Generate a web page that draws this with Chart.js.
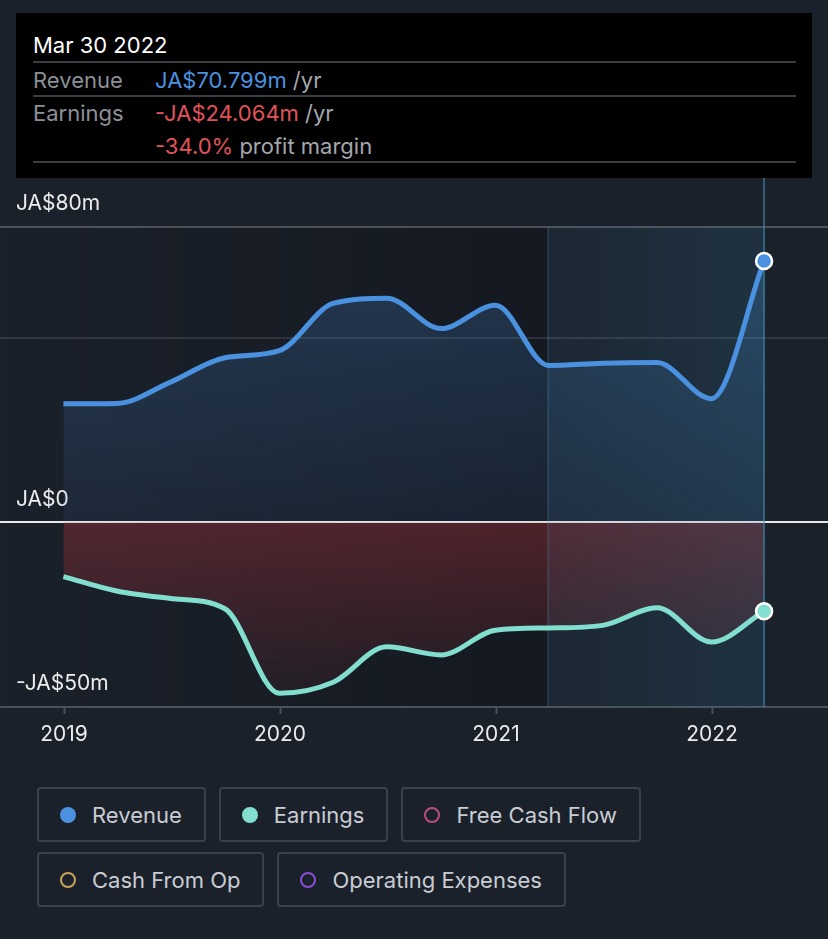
<!DOCTYPE html>
<html>
<head>
<meta charset="utf-8">
<script src="https://cdn.jsdelivr.net/npm/chart.js@4.4.1/dist/chart.umd.min.js"></script>
<style>
html,body{margin:0;padding:0;background:#1b212b;width:828px;height:939px;overflow:hidden;font-family:Inter,"Noto Sans",sans-serif;}
#wrap{position:absolute;left:0;top:0;width:828px;height:770px;}
#tip{position:absolute;left:16px;top:13px;width:796px;height:165px;background:#000;font-size:22px;z-index:2;}
#tip .t{position:absolute;left:17px;height:30px;line-height:30px;white-space:nowrap;}
#tip .sep{position:absolute;left:17px;width:763px;height:2px;background:#3a3d42;}
.lab{color:#8b9097;}
.val{color:#a3a7ad;}
.blue{color:#4a92e0;}
.red{color:#e0535a;}
#legend{position:absolute;left:37px;top:787px;width:620px;display:flex;flex-wrap:wrap;column-gap:13px;row-gap:10px;}
.item{box-sizing:border-box;height:55px;border:2px solid #3a414b;border-radius:4px;display:flex;align-items:center;padding:0 22px 0 21px;color:#c9cdd3;font-size:22px;}
.dot{width:16px;height:16px;border-radius:50%;box-sizing:border-box;margin-right:16px;}
</style>
</head>
<body>
<div id="wrap"><canvas id="c" width="828" height="770"></canvas></div>
<div id="tip"></div>
<div id="legend"></div>
<script>
// ---- data ----
const periods = ['2018-12-31','2019-03-31','2019-06-30','2019-09-30','2019-12-31','2020-03-31','2020-06-30','2020-09-30','2020-12-31','2021-03-31','2021-06-30','2021-09-30','2021-12-31','2022-03-30'];
const revenue = [32.1, 32.2, 38.0, 44.6, 46.5, 59.3, 60.7, 52.5, 58.8, 42.5, 43.1, 43.3, 33.5, 70.799];
const earnings = [-14.7, -18.6, -20.6, -23.4, -46.3, -43.3, -33.7, -35.9, -29.2, -28.6, -27.9, -23.1, -32.4, -24.064];
const yTicks = [-50, 0, 50, 80];
const xTicks = [2019, 2020, 2021, 2022];
const legendNames = ['Revenue','Earnings','Free Cash Flow','Cash From Op','Operating Expenses'];
const legendColors = ['#4a92e0','#82dfd0','#b94d86','#c9a45a','#8a4fd6'];
const legendFilled = [true, true, false, false, false];
const tipTitle = 'Mar 30 2022';
const profitMargin = -34.0;

// ---- helpers ----
function toYear(s){
  const [y,m,d] = s.split('-').map(Number);
  const start = Date.UTC(y,0,1), end = Date.UTC(y+1,0,1);
  return y + (Date.UTC(y,m-1,d) - start) / (end - start);
}
function fmtM(v){ return (v<0?'-':'') + 'JA$' + Math.abs(v).toFixed(3) + 'm'; }

const xs = periods.map(toYear);
const lastX = xs[xs.length-1];
const hlStart = lastX - 1;
const last = periods.length - 1;

// ---- tooltip (html) ----
const tip = document.getElementById('tip');
tip.innerHTML =
  '<div class="t" style="top:17px;color:#fff">'+tipTitle+'</div>'+
  '<div class="sep" style="top:48px"></div>'+
  '<div class="t lab" style="top:52px">Revenue</div>'+
  '<div class="t" style="top:52px;left:139px"><span class="blue">'+fmtM(revenue[last])+'</span><span class="val"> /yr</span></div>'+
  '<div class="sep" style="top:82px"></div>'+
  '<div class="t lab" style="top:85px">Earnings</div>'+
  '<div class="t" style="top:85px;left:139px"><span class="red">'+fmtM(earnings[last])+'</span><span class="val"> /yr</span></div>'+
  '<div class="t" style="top:118px;left:139px"><span class="red">'+profitMargin.toFixed(1)+'%</span><span class="val"> profit margin</span></div>'+
  '<div class="sep" style="top:148px"></div>';

// ---- legend (html) ----
const lg = document.getElementById('legend');
legendNames.forEach((n,i)=>{
  const it = document.createElement('div'); it.className='item';
  const d = document.createElement('span'); d.className='dot';
  if (legendFilled[i]) d.style.background = legendColors[i];
  else d.style.border = '2.5px solid ' + legendColors[i];
  it.appendChild(d);
  const t = document.createElement('span'); t.textContent = n; it.appendChild(t);
  lg.appendChild(it);
});

// ---- chart ----
const pxPerYear = 216;
const xMin = 2019 - 64/pxPerYear;
const xMax = 2019 + (828-64)/pxPerYear;

const bgPlugin = {
  id:'bgShade',
  beforeDraw(chart){
    const {ctx, chartArea:a, scales:{x}} = chart;
    const xh = x.getPixelForValue(hlStart);
    ctx.save();
    const g = ctx.createLinearGradient(a.left,0,xh,0);
    g.addColorStop(0,'rgba(0,0,0,0)');
    g.addColorStop(1,'rgba(0,0,0,0.22)');
    ctx.fillStyle = g;
    ctx.fillRect(a.left, a.top, xh-a.left, a.bottom-a.top);
    ctx.restore();
  },
  beforeDatasetsDraw(chart){
    const {ctx, chartArea:a, scales:{x}} = chart;
    const xh = x.getPixelForValue(hlStart);
    const xl = x.getPixelForValue(lastX);
    ctx.save();
    const g = ctx.createLinearGradient(xh,0,xl,0);
    g.addColorStop(0,'rgba(60,165,215,0.05)');
    g.addColorStop(1,'rgba(60,165,215,0.13)');
    ctx.fillStyle = g;
    ctx.fillRect(xh, a.top, xl-xh, a.bottom-a.top);
    ctx.strokeStyle = 'rgba(90,160,190,0.2)';
    ctx.lineWidth = 2;
    ctx.beginPath(); ctx.moveTo(xh, a.top); ctx.lineTo(xh, a.bottom); ctx.stroke();
    ctx.strokeStyle = 'rgba(70,150,180,0.55)';
    ctx.beginPath(); ctx.moveTo(xl, 178); ctx.lineTo(xl, a.bottom); ctx.stroke();
    ctx.restore();
  }
};

function revFill(c){
  const ch = c.chart; const a = ch.chartArea; if(!a) return 'rgba(74,146,224,0.18)';
  const z = ch.scales.y.getPixelForValue(0);
  const g = ch.ctx.createLinearGradient(0,a.top,0,z);
  g.addColorStop(0,'rgba(74,146,224,0.26)');
  g.addColorStop(1,'rgba(74,146,224,0.08)');
  return g;
}
function earnFill(c){
  const ch = c.chart; const a = ch.chartArea; if(!a) return 'rgba(210,55,60,0.2)';
  const z = ch.scales.y.getPixelForValue(0);
  const g = ch.ctx.createLinearGradient(0,z,0,a.bottom);
  g.addColorStop(0,'rgba(210,55,60,0.3)');
  g.addColorStop(1,'rgba(210,55,60,0.04)');
  return g;
}

new Chart(document.getElementById('c'), {
  type:'line',
  data:{
    datasets:[
      {
        label:'Revenue',
        data: xs.map((x,i)=>({x, y: revenue[i]})),
        borderColor:'#4a92e0', borderWidth:5,
        backgroundColor: revFill, fill:'origin',
        cubicInterpolationMode:'monotone',
        pointRadius:(c)=>c.dataIndex===last?8:0,
        pointBackgroundColor:'#4a92e0', pointBorderColor:'#ffffff', pointBorderWidth:2.5,
        clip:false
      },
      {
        label:'Earnings',
        data: xs.map((x,i)=>({x, y: earnings[i]})),
        borderColor:'#82dfd0', borderWidth:5,
        backgroundColor: earnFill, fill:'origin',
        cubicInterpolationMode:'monotone',
        pointRadius:(c)=>c.dataIndex===last?8:0,
        pointBackgroundColor:'#82dfd0', pointBorderColor:'#ffffff', pointBorderWidth:2.5,
        clip:false
      }
    ]
  },
  options:{
    responsive:false, animation:false, devicePixelRatio:1,
    layout:{autoPadding:false, padding:{top:227,left:0,right:0,bottom:0}},
    plugins:{legend:{display:false}, tooltip:{enabled:false}, filler:{drawTime:'beforeDatasetsDraw'}},
    scales:{
      x:{
        type:'linear', min:xMin, max:xMax,
        afterBuildTicks(s){ s.ticks = xTicks.map(v=>({value:v})); },
        afterFit(s){ s.height = 63; },
        border:{display:true, color:'#4b515a', width:2},
        grid:{drawOnChartArea:false, drawTicks:true, tickLength:7, tickColor:'#4b515a', tickWidth:2},
        ticks:{color:'#ececec', font:{family:'Inter', size:21}, padding:8, autoSkip:false, maxRotation:0,
               callback:(v)=>String(v)}
      },
      y:{
        type:'linear', min:-50, max:80,
        afterBuildTicks(s){ s.ticks = yTicks.map(v=>({value:v})); },
        afterFit(s){ s.width = 0; },
        border:{display:false},
        grid:{drawTicks:false, lineWidth:2,
              color:(c)=>{ const v=c.tick.value; return v===0?'#e9e9e9':(v===80?'rgba(255,255,255,0.22)':(v===50?'rgba(255,255,255,0.1)':'rgba(0,0,0,0)')); }},
        ticks:{mirror:true, padding:16, labelOffset:-23, color:'#ececec', font:{family:'Inter', size:21}, autoSkip:false,
               callback:(v)=> v===50 ? '' : (v===0 ? 'JA$0' : (v<0?'-':'')+'JA$'+Math.abs(v)+'m')}
      }
    }
  },
  plugins:[bgPlugin]
});
</script>
</body>
</html>
